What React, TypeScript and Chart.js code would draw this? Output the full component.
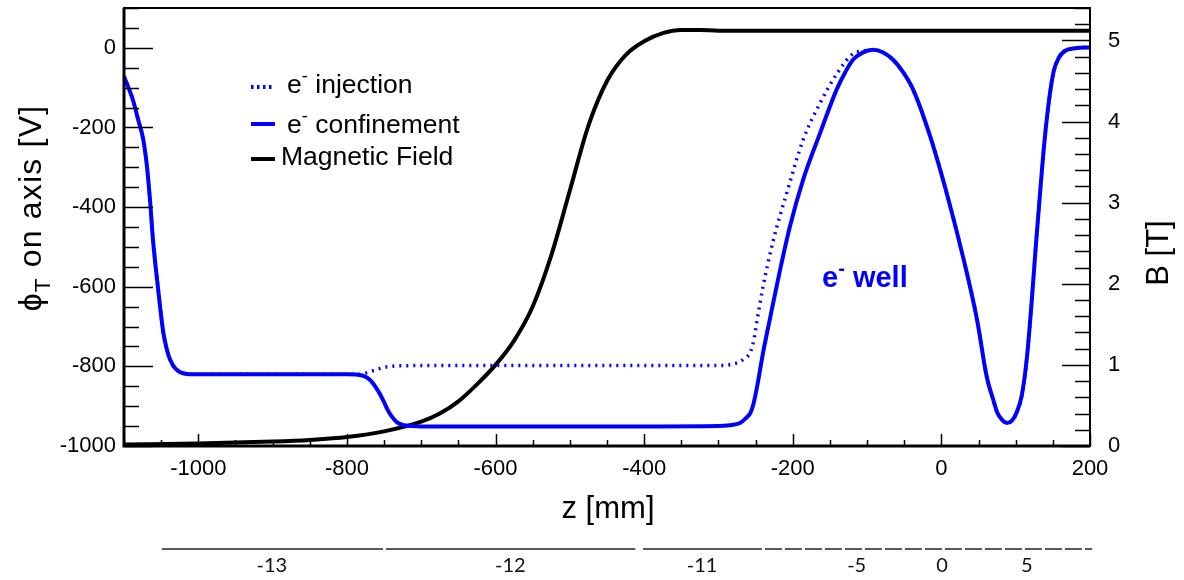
import React, { useEffect, useRef } from "react";
import { Chart, registerables } from "chart.js";
Chart.register(...registerables);

const FONT = '"Liberation Sans", Arial, Helvetica, sans-serif';
const BLUE = "#0000ff";

// e- confinement potential (z [mm], phi [V])
const confZ = [-1100, -1094, -1088, -1081, -1074, -1069, -1065, -1061, -1054, -1047, -1042, -1038, -1032, -1025, -1015, -1000, -900, -800, -785, -775, -768, -762, -756, -750, -745, -740, -733, -725, -712, -700, -600, -500, -400, -300, -285, -271, -263, -257, -253, -248, -240, -231, -217, -204, -186, -163, -141, -129, -119, -106, -92, -79, -65, -52, -38, -15, 7, 30, 48, 61, 70, 75, 82, 88, 95, 101, 108, 115, 121, 127, 133, 139, 145, 151, 158, 166, 180, 200];
const confV = [-72, -100, -131, -180, -231, -300, -382, -482, -607, -716, -760, -783, -803, -814, -819, -820, -820, -820, -821, -826, -836, -850, -868, -890, -910, -925, -940, -947, -950, -951, -951, -951, -951, -950, -948, -942, -930, -917, -895, -851, -766, -683, -557, -450, -331, -213, -105, -60, -30, -12, -5, -11, -30, -60, -105, -223, -364, -532, -683, -826, -885, -915, -935, -942, -936, -917, -875, -780, -650, -500, -360, -230, -130, -60, -25, -8, -1, 1];

// e- injection potential (z [mm], phi [V])
const injZ = [-1100, -1094, -1088, -1081, -1074, -1069, -1065, -1061, -1054, -1047, -1042, -1038, -1032, -1025, -1015, -1000, -900, -800, -785, -775, -765, -755, -745, -733, -700, -600, -500, -400, -300, -285, -276, -271, -264, -257, -252, -248, -240, -226, -208, -186, -163, -140, -119, -106, -92, -79, -65, -52, -38, -15, 7, 30, 48, 61, 70, 75, 82, 88, 95, 101, 108, 115, 121, 127, 133, 139, 145, 151, 158, 166, 180, 200];
const injV = [-72, -100, -131, -180, -231, -300, -382, -482, -607, -716, -760, -783, -803, -814, -819, -820, -820, -820, -820, -817, -811, -805, -801, -799, -798, -798, -798, -798, -798, -796, -792, -788, -779, -764, -730, -684, -600, -482, -364, -231, -138, -63, -15, -8, -5, -11, -30, -60, -105, -223, -364, -532, -683, -826, -885, -915, -935, -942, -936, -917, -875, -780, -650, -500, -360, -230, -130, -60, -25, -8, -1, 1];

// Magnetic field (z [mm], B [T])
const fieldZ = [-1100, -1000, -900, -850, -800, -750, -700, -675, -650, -625, -600, -575, -550, -525, -500, -475, -450, -425, -400, -375, -350, -325, -300, -200, 0, 200];
const fieldB = [0.02, 0.03, 0.055, 0.075, 0.11, 0.18, 0.3, 0.4, 0.55, 0.76, 1.0, 1.3, 1.72, 2.35, 3.15, 3.95, 4.5, 4.82, 4.99, 5.09, 5.13, 5.13, 5.12, 5.12, 5.12, 5.12];

// Electrode bar below the plot (z ranges in mm) and electrode numbers
const electrodeFrom = [-1049, -747.5, -401.5, -237.5];
const electrodeTo = [-751.5, -412, -241.5, 203];
const electrodeDashed = [false, false, false, true];
const electrodeLabels = ["-13", "-12", "-11", "-5", "0", "5"];
const electrodeLabelZ = [-901, -580, -322, -114, 1, 115];

const legendLabels = ["injection", "confinement", "Magnetic Field"];

type Part = [string, number];

function drawRich(ctx: CanvasRenderingContext2D, parts: Part[], x: number, y: number, size: number, align: string, weight = "normal") {
  const fontFor = (m: number) => `${weight} ${m ? size * 0.7 : size}px ${FONT}`;
  const widths = parts.map(([t, m]) => {
    ctx.font = fontFor(m);
    return ctx.measureText(t).width;
  });
  const total = widths.reduce((a, b) => a + b, 0);
  let cx = align === "center" ? x - total / 2 : align === "right" ? x - total : x;
  ctx.textBaseline = "alphabetic";
  ctx.textAlign = "left";
  parts.forEach(([t, m], i) => {
    ctx.font = fontFor(m);
    const dy = m === 1 ? -size * 0.42 : m === -1 ? size * 0.28 : 0;
    ctx.fillText(t, cx, y + dy);
    cx += widths[i];
  });
}

const decor = {
  id: "decor",
  afterDraw(chart: any) {
    const ctx: CanvasRenderingContext2D = chart.ctx;
    const { left, right, top, bottom } = chart.chartArea;
    const xs = chart.scales.x;
    const ys = chart.scales.y;
    const y2 = chart.scales.y2;
    ctx.save();
    ctx.strokeStyle = "#000";
    ctx.fillStyle = "#000";
    ctx.setLineDash([]);
    // inward ticks
    ctx.lineWidth = 1.5;
    ctx.beginPath();
    for (let v = -1100; v <= 200; v += 50) {
      const px = Math.round(xs.getPixelForValue(v)) + 0.5;
      const len = v % 200 === 0 ? 12 : 6;
      ctx.moveTo(px, bottom);
      ctx.lineTo(px, bottom - len);
    }
    for (let v = -1000; v <= 100; v += 50) {
      const py = Math.round(ys.getPixelForValue(v)) + 0.5;
      const len = v % 200 === 0 ? 29 : 15;
      ctx.moveTo(left, py);
      ctx.lineTo(left + len, py);
    }
    for (let i = 0; i <= 27; i++) {
      const py = Math.round(y2.getPixelForValue(i * 0.2)) + 0.5;
      const len = i % 5 === 0 ? 28 : 15;
      ctx.moveTo(right, py);
      ctx.lineTo(right - len, py);
    }
    ctx.stroke();
    // frame
    ctx.lineWidth = 2;
    ctx.strokeRect(left, top, right - left, bottom - top);
    ctx.lineWidth = 3;
    ctx.beginPath();
    ctx.moveTo(left, top);
    ctx.lineTo(left, bottom);
    ctx.lineTo(right, bottom);
    ctx.stroke();

    // legend
    ctx.lineWidth = 4;
    ctx.strokeStyle = BLUE;
    ctx.setLineDash([2.5, 3.5]);
    ctx.beginPath();
    ctx.moveTo(251, 87);
    ctx.lineTo(274, 87);
    ctx.stroke();
    ctx.setLineDash([]);
    ctx.beginPath();
    ctx.moveTo(251, 124);
    ctx.lineTo(275, 124);
    ctx.stroke();
    ctx.strokeStyle = "#000";
    ctx.beginPath();
    ctx.moveTo(251, 159);
    ctx.lineTo(275, 159);
    ctx.stroke();
    ctx.fillStyle = "#000";
    drawRich(ctx, [["e", 0], ["-", 1], [" " + legendLabels[0], 0]], 287, 93, 26.5, "left");
    drawRich(ctx, [["e", 0], ["-", 1], [" " + legendLabels[1], 0]], 287, 133, 26.5, "left");
    drawRich(ctx, [[legendLabels[2], 0]], 281, 165, 26.5, "left");

    // well annotation
    ctx.fillStyle = BLUE;
    drawRich(ctx, [["e", 0], ["-", 1], [" well", 0]], 822, 287, 29, "left", "bold");

    // axis titles
    ctx.fillStyle = "#000";
    drawRich(ctx, [["z [mm]", 0]], 608, 518, 31, "center");
    ctx.save();
    ctx.translate(41, 208);
    ctx.rotate(-Math.PI / 2);
    (ctx as any).letterSpacing = "1.2px";
    drawRich(ctx, [["\u03d5", 0], ["T", -1], [" on axis [V]", 0]], 0, 0, 32, "center");
    (ctx as any).letterSpacing = "0px";
    ctx.restore();
    ctx.save();
    ctx.translate(1168, 253);
    ctx.rotate(-Math.PI / 2);
    drawRich(ctx, [["B [T]", 0]], 0, 0, 31, "center");
    ctx.restore();

    // electrode bar
    ctx.strokeStyle = "#222";
    ctx.lineWidth = 1.6;
    electrodeFrom.forEach((z0, i) => {
      ctx.setLineDash(electrodeDashed[i] ? [17, 3] : []);
      ctx.beginPath();
      ctx.moveTo(xs.getPixelForValue(z0), 549);
      ctx.lineTo(xs.getPixelForValue(electrodeTo[i]), 549);
      ctx.stroke();
    });
    ctx.setLineDash([]);
    ctx.fillStyle = "#111";
    ctx.font = `20px Lato, "Open Sans", sans-serif`;
    ctx.textAlign = "center";
    ctx.textBaseline = "alphabetic";
    electrodeLabels.forEach((t, i) => {
      ctx.fillText(t, xs.getPixelForValue(electrodeLabelZ[i]), 572);
    });
    ctx.restore();
  },
};

function zeroPad(s: any) {
  s.paddingTop = 0;
  s.paddingBottom = 0;
  s.paddingLeft = 0;
  s.paddingRight = 0;
}

export default function App() {
  const canvasRef = useRef<HTMLCanvasElement>(null);
  useEffect(() => {
    const canvas = canvasRef.current;
    if (!canvas) return;
    const tickFont = { family: FONT, size: 22 };
    const chart = new Chart(canvas, {
      type: "line",
      data: {
        datasets: [
          {
            label: "e- confinement",
            data: confZ.map((z, i) => ({ x: z, y: confV[i] })),
            borderColor: BLUE,
            borderWidth: 4,
            pointRadius: 0,
            yAxisID: "y",
            cubicInterpolationMode: "monotone",
            order: 0,
          },
          {
            label: "e- injection",
            data: injZ.map((z, i) => ({ x: z, y: injV[i] })),
            borderColor: BLUE,
            borderWidth: 3.5,
            borderDash: [2, 5],
            pointRadius: 0,
            yAxisID: "y",
            cubicInterpolationMode: "monotone",
            order: 1,
          },
          {
            label: "Magnetic Field",
            data: fieldZ.map((z, i) => ({ x: z, y: fieldB[i] })),
            borderColor: "#000",
            borderWidth: 4,
            pointRadius: 0,
            yAxisID: "y2",
            cubicInterpolationMode: "monotone",
            order: 2,
          },
        ],
      },
      options: {
        animation: false,
        responsive: false,
        devicePixelRatio: 1,
        layout: { padding: { top: 8, left: 0, right: 0, bottom: 0 } },
        plugins: { legend: { display: false }, tooltip: { enabled: false } },
        scales: {
          x: {
            type: "linear",
            min: -1100,
            max: 200,
            grid: { display: false, drawTicks: false },
            border: { display: false },
            ticks: { stepSize: 200, includeBounds: false, font: tickFont, color: "#000", padding: 10, maxRotation: 0, callback: (v: any) => String(v) },
            afterFit: (s: any) => { s.height = 134; zeroPad(s); },
          },
          y: {
            type: "linear",
            position: "left",
            min: -1000,
            max: 100,
            grid: { display: false, drawTicks: false },
            border: { display: false },
            ticks: { stepSize: 200, includeBounds: false, font: tickFont, color: "#000", padding: 8, callback: (v: any) => String(v) },
            afterFit: (s: any) => { s.width = 124; zeroPad(s); },
          },
          y2: {
            type: "linear",
            position: "right",
            min: 0,
            max: 5.4,
            grid: { display: false, drawTicks: false },
            border: { display: false },
            ticks: { stepSize: 1, includeBounds: false, font: tickFont, color: "#000", padding: 18, callback: (v: any) => String(v) },
            afterFit: (s: any) => { s.width = 94; zeroPad(s); },
          },
        },
      },
      plugins: [decor],
    } as any);
    return () => chart.destroy();
  }, []);
  return (
    <div style={{ position: "absolute", left: 0, top: 0, width: 1184, height: 580, background: "#fff" }}>
      <canvas ref={canvasRef} width={1184} height={580} />
    </div>
  );
}
